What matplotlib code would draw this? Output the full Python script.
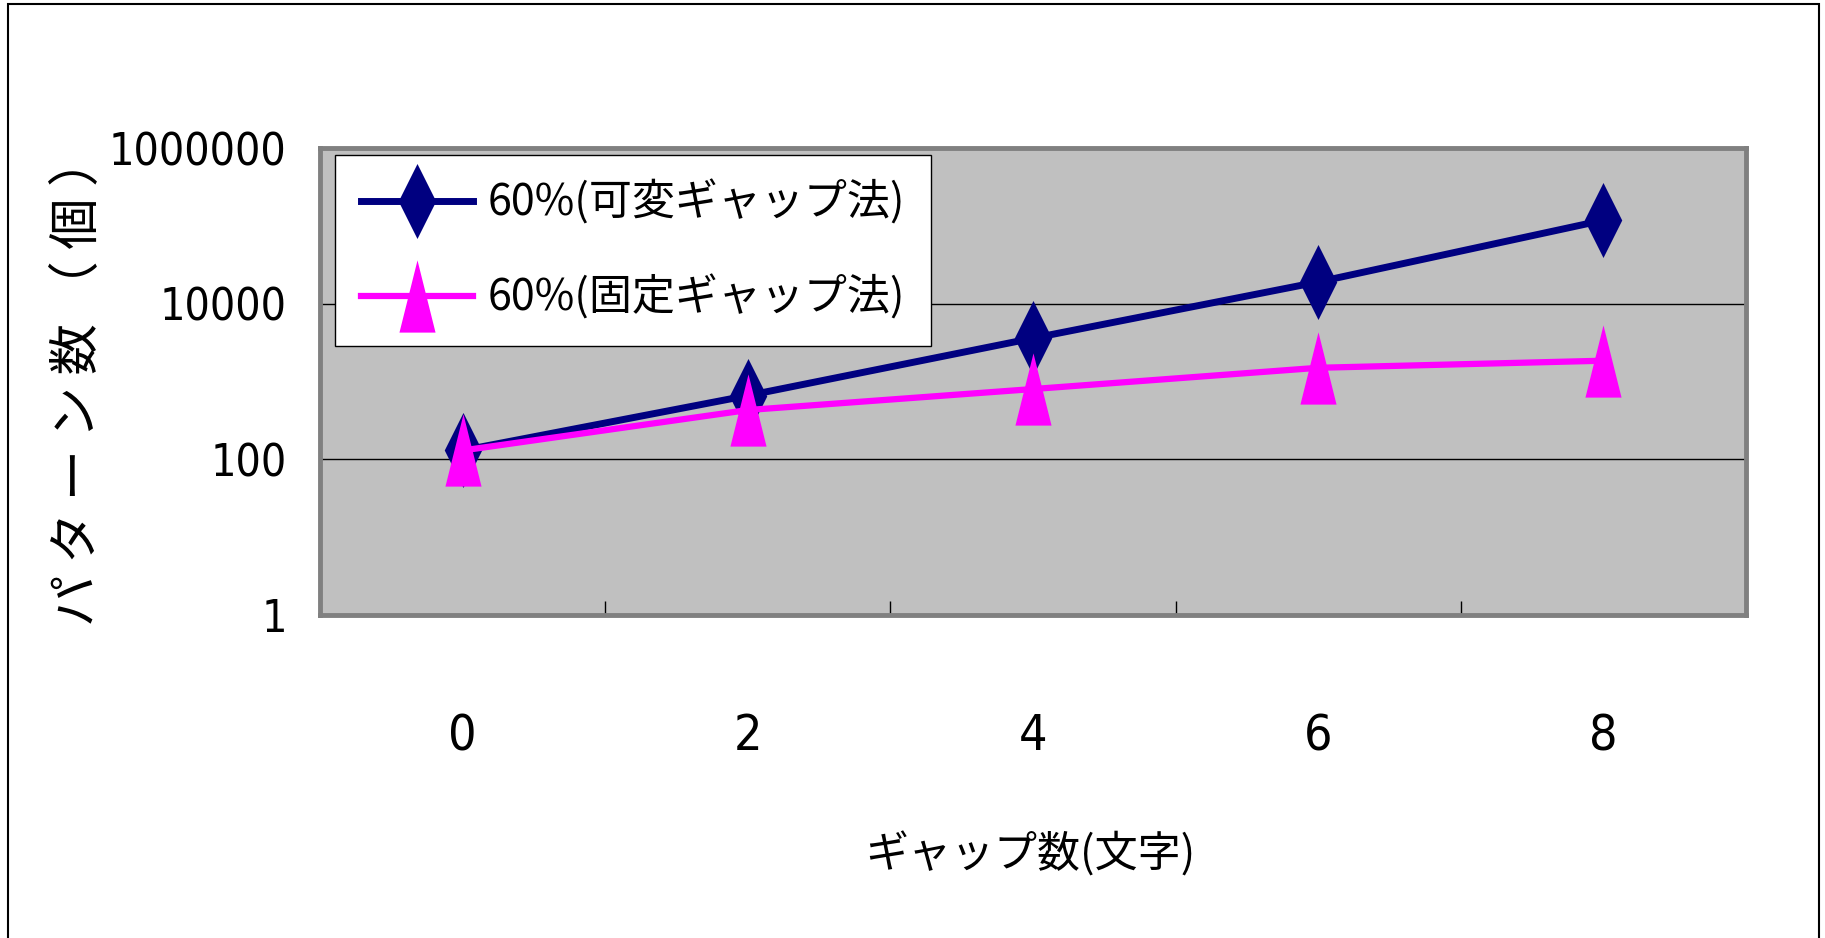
import numpy as np
import matplotlib
matplotlib.use("Agg")
import matplotlib.pyplot as plt
from matplotlib.path import Path
from matplotlib.patches import Rectangle

plt.rcParams['font.family'] = ['Noto Sans CJK JP', 'DejaVu Sans']

# データ
gap_labels = ['0', '2', '4', '6', '8']
variable_gap = [130, 660, 3600, 19000, 118000]   # 60%(可変ギャップ法)
fixed_gap = [130, 430, 800, 1500, 1850]          # 60%(固定ギャップ法)
series_names = ['60%(可変ギャップ法)', '60%(固定ギャップ法)']
y_ticks = [1, 100, 10000, 1000000]
y_tick_labels = ['1', '100', '10000', '1000000']

# 縦長のマーカー
diamond = Path([(0, 1), (0.5, 0), (0, -1), (-0.5, 0), (0, 1)],
               [Path.MOVETO, Path.LINETO, Path.LINETO, Path.LINETO, Path.CLOSEPOLY])
triangle = Path([(0, 1), (0.5, -1), (-0.5, -1), (0, 1)],
                [Path.MOVETO, Path.LINETO, Path.LINETO, Path.CLOSEPOLY])

W, H = 1825, 938
fig = plt.figure(figsize=(W / 100, H / 100), dpi=100)
fig.patch.set_facecolor('white')

# 外枠
fig.add_artist(Rectangle((8 / W, -0.01), (1819 - 8) / W, 1.01 - 4 / H,
                         transform=fig.transFigure, fill=False,
                         edgecolor='black', linewidth=1.5))

ax = fig.add_axes([320 / W, 1 - 615 / H, (1746 - 320) / W, (615 - 148) / H])
ax.set_facecolor('#C0C0C0')

x = np.arange(len(gap_labels)) + 0.5
ax.plot(x, variable_gap, color='#000080', linewidth=5, marker=diamond,
        markersize=54, markeredgewidth=0, label=series_names[0], zorder=3)
ax.plot(x, fixed_gap, color='#FF00FF', linewidth=4.5, marker=triangle,
        markersize=52, markeredgewidth=0, label=series_names[1], zorder=4)

ax.set_yscale('log')
ax.set_ylim(1, 1000000)
ax.set_xlim(0, len(gap_labels))
ax.set_yticks(y_ticks)
ax.set_yticklabels(y_tick_labels)
ax.yaxis.set_minor_locator(matplotlib.ticker.NullLocator())
ax.grid(axis='y', color='black', linewidth=1)
ax.set_axisbelow(True)

ax.set_xticks(x)
ax.set_xticklabels(gap_labels)
ax.set_xticks(np.arange(1, len(gap_labels)), minor=True)
ax.tick_params(axis='x', which='major', length=0, pad=70, labelsize=36)
ax.tick_params(axis='x', which='minor', direction='in', length=10, width=1, color='black')
ax.tick_params(axis='y', which='major', length=0, pad=24, labelsize=32)
for lbl in ax.get_yticklabels() + ax.get_xticklabels():
    lbl.set_fontfamily('DejaVu Sans')
    lbl.set_fontstretch('condensed')

for s in ax.spines.values():
    s.set_color('#808080')
    s.set_linewidth(3.5)

fig.text(78 / W, 1 - 380 / H, 'パ タ ー ン 数 （ 個 ）', rotation=90,
         ha='center', va='center', fontsize=37)
fig.text(1030 / W, 1 - 855 / H, 'ギャップ数(文字)', ha='center', va='center',
         fontsize=31)

leg = ax.legend(loc='upper left', bbox_to_anchor=(335 / W, 1 - 155 / H),
                bbox_transform=fig.transFigure, fontsize=31, frameon=True,
                fancybox=False, edgecolor='black', framealpha=1,
                handlelength=2.6, handletextpad=0.35, labelspacing=1.15,
                borderpad=0.6, borderaxespad=0)
leg.get_frame().set_linewidth(1)

fig.savefig('out.png', dpi=100)
